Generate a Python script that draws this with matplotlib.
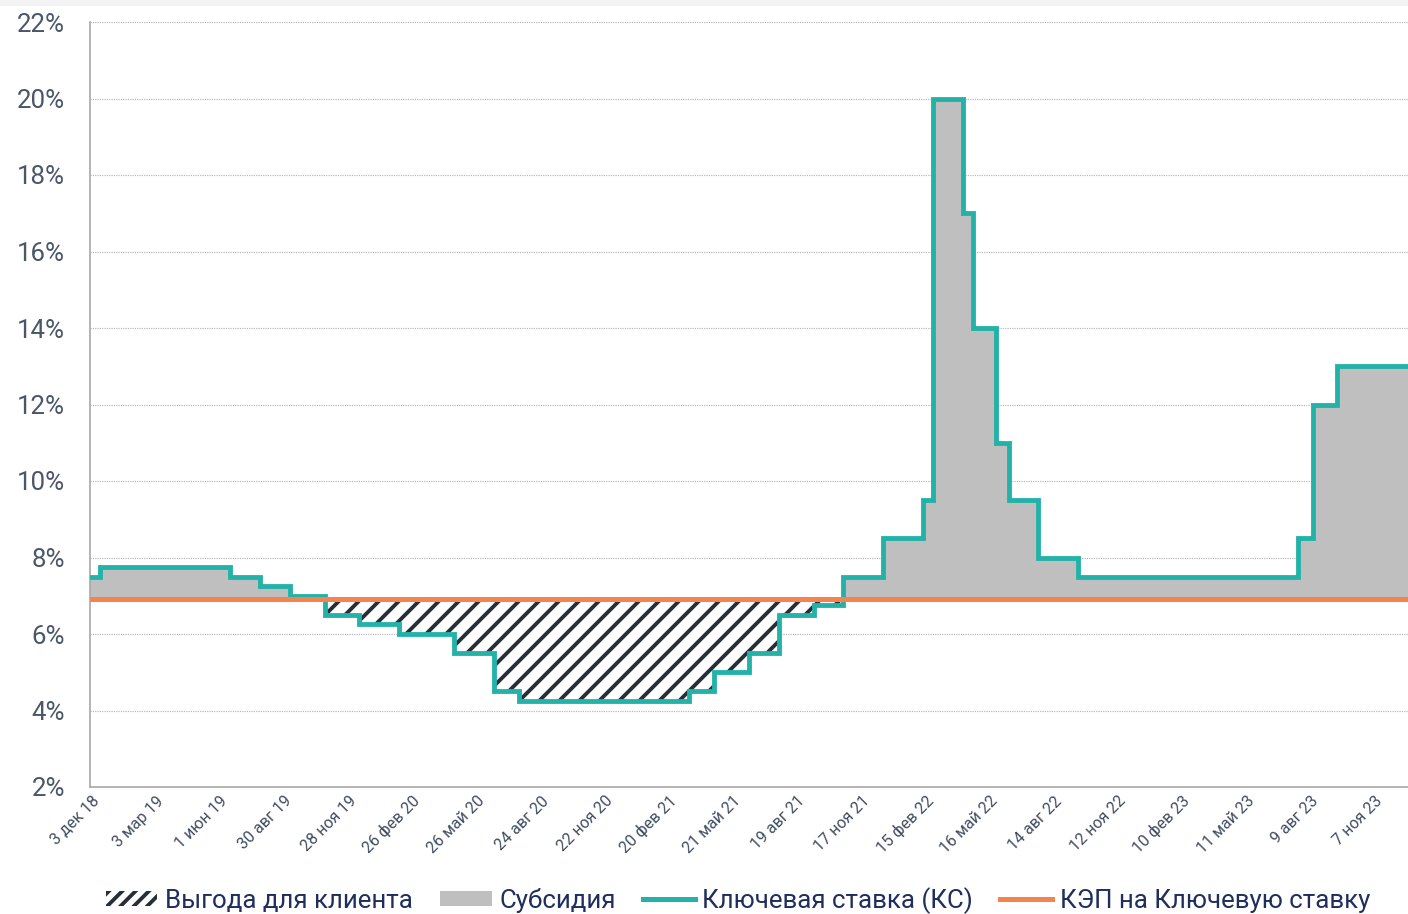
import numpy as np
import matplotlib
matplotlib.use("Agg")
import matplotlib.pyplot as plt
import matplotlib.transforms as mtransforms
from matplotlib.patches import Patch, Rectangle
from matplotlib.lines import Line2D
from datetime import datetime

plt.rcParams['font.family'] = ['Roboto', 'DejaVu Sans']
plt.rcParams['hatch.linewidth'] = 2.3

# key rate steps (date the rate came in, %)
rate_dates = ["2018-12-03", "2018-12-17", "2019-06-17", "2019-07-29", "2019-09-09",
              "2019-10-28", "2019-12-16", "2020-02-10", "2020-04-27", "2020-06-22",
              "2020-07-27", "2021-03-22", "2021-04-26", "2021-06-15", "2021-07-26",
              "2021-09-13", "2021-10-25", "2021-12-20", "2022-02-14", "2022-02-28",
              "2022-04-11", "2022-04-25", "2022-05-27", "2022-06-14", "2022-07-25",
              "2022-09-19", "2023-07-24", "2023-08-15", "2023-09-18", "2023-12-26"]
key_rate = [7.50, 7.75, 7.50, 7.25, 7.00,
            6.50, 6.25, 6.00, 5.50, 4.50,
            4.25, 4.50, 5.00, 5.50, 6.50,
            6.75, 7.50, 8.50, 9.50, 20.00,
            17.00, 14.00, 11.00, 9.50, 8.00,
            7.50, 8.50, 12.00, 13.00, 13.00]
kep_level = 6.92  # cap on key rate

tick_dates = ["2018-12-03", "2019-03-03", "2019-06-01", "2019-08-30", "2019-11-28",
              "2020-02-26", "2020-05-26", "2020-08-24", "2020-11-22", "2021-02-20",
              "2021-05-21", "2021-08-19", "2021-11-17", "2022-02-15", "2022-05-16",
              "2022-08-14", "2022-11-12", "2023-02-10", "2023-05-11", "2023-08-09",
              "2023-11-07"]
tick_labels = ["3 дек 18", "3 мар 19", "1 июн 19", "30 авг 19", "28 ноя 19",
               "26 фев 20", "26 май 20", "24 авг 20", "22 ноя 20", "20 фев 21",
               "21 май 21", "19 авг 21", "17 ноя 21", "15 фев 22", "16 май 22",
               "14 авг 22", "12 ноя 22", "10 фев 23", "11 май 23", "9 авг 23",
               "7 ноя 23"]

x = np.array([datetime.strptime(d, "%Y-%m-%d") for d in rate_dates])
y = np.array(key_rate)
kep = np.full(len(y), kep_level)
xt = [datetime.strptime(d, "%Y-%m-%d") for d in tick_dates]

teal = '#22b2a8'
orange = '#f5834d'
grey = '#bfbfbf'
hatch_col = '#262e38'

fig = plt.figure(figsize=(1408/120, 914/120), dpi=120)
fig.patches.append(Rectangle((0, 1 - 6/914), 1, 6/914, transform=fig.transFigure,
                             facecolor='#f3f3f3', edgecolor='none', zorder=-1))
ax = fig.add_axes([90/1408, 1 - 787/914, 1 - 90/1408, (787 - 22)/914])

# subsidy (rate above cap) and client benefit (rate below cap)
ax.fill_between(x, kep, np.maximum(y, kep), step='post', facecolor=grey, linewidth=0, zorder=2)
ax.fill_between(x, np.minimum(y, kep), kep, step='post', facecolor='white',
                edgecolor=hatch_col, hatch='//', linewidth=0, zorder=2)
ax.step(x, y, where='post', color=teal, lw=2.9, zorder=4, solid_joinstyle='miter')
ax.plot([x[0], x[-1]], [kep_level, kep_level], color=orange, lw=3.0, zorder=5)

ax.set_xlim(x[0], x[-1])
ax.set_ylim(2, 22)
ax.set_yticks(np.arange(2, 23, 2))
ax.set_yticklabels([f"{v}%" for v in range(2, 23, 2)])
ax.grid(axis='y', linestyle=(0, (1, 1)), color='#b5b5b5', lw=0.7, zorder=0)
ax.set_axisbelow(True)

for s in ['top', 'right']:
    ax.spines[s].set_visible(False)
for s in ['left', 'bottom']:
    ax.spines[s].set_color('#a8a8a8')
    ax.spines[s].set_linewidth(1.0)

ax.tick_params(axis='y', length=0, pad=15, labelsize=15.5, labelcolor='#4b5668')
ax.set_xticks(xt)
ax.set_xticklabels(tick_labels)
ax.tick_params(axis='x', length=0, pad=7, labelsize=9.6, labelcolor='#404c60')
offset = mtransforms.ScaledTranslation(7/120, 0, fig.dpi_scale_trans)
for lab in ax.get_xticklabels():
    lab.set_rotation(45)
    lab.set_ha('right')
    lab.set_va('center')
    lab.set_rotation_mode('anchor')
    lab.set_transform(lab.get_transform() + offset)

handles = [Patch(facecolor='white', edgecolor=hatch_col, hatch='///', linewidth=0),
           Patch(facecolor=grey, edgecolor='none'),
           Line2D([0], [0], color=teal, lw=3),
           Line2D([0], [0], color=orange, lw=3)]
labels = ["Выгода для клиента", "Субсидия", "Ключевая ставка (КС)", "КЭП на Ключевую ставку"]
leg = fig.legend(handles, labels, loc='center', bbox_to_anchor=(0.524, 0.015), ncol=4,
                 frameon=False, fontsize=15.5, handlelength=2.0, handleheight=0.55,
                 handletextpad=0.3, columnspacing=1.05, borderaxespad=0, borderpad=0)
for t in leg.get_texts():
    t.set_color('#1f2e5c')

fig.savefig("out.png", dpi=120, facecolor='white')
